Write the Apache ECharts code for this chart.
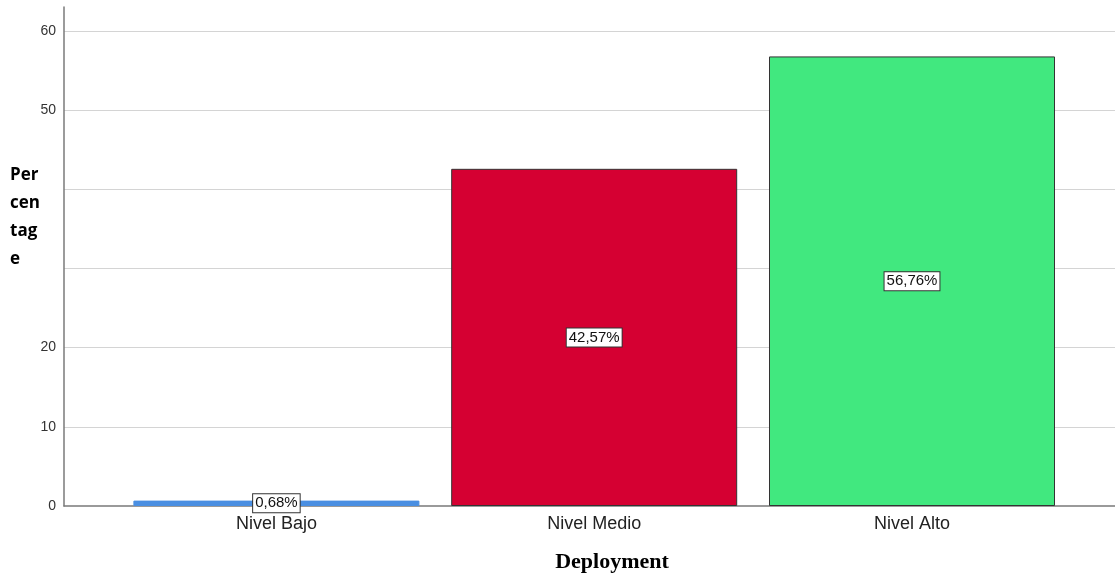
<!DOCTYPE html>
<html>
<head>
<meta charset="utf-8">
<title>Deployment</title>
<script src="https://cdn.jsdelivr.net/npm/echarts@6/dist/echarts.min.js"></script>
<style>
  html, body { margin: 0; padding: 0; background: #ffffff; }
  #chart { width: 1115px; height: 575px; }
</style>
</head>
<body>
<div id="chart"></div>
<script>
// Level categories and the share of responses in each (percent)
const categories = ['Nivel Bajo', 'Nivel Medio', 'Nivel Alto'];
const percentages = [0.68, 42.57, 56.76];
const barColors = ['#4a8fe2', '#d50032', '#41e87f'];
const barBorders = ['#4a8fe2', '#333333', '#333333'];
const yTicksShown = [0, 10, 20, 50, 60];

const Y_MAX = 63;
const TOP = 7;
const BOTTOM = 69;

const chart = echarts.init(document.getElementById('chart'), null, { renderer: 'canvas' });

const fmtPct = v => v.toFixed(2).replace('.', ',') + '%';

const option = {
  animation: false,
  backgroundColor: '#ffffff',
  textStyle: { fontFamily: 'Liberation Sans, Arial, sans-serif' },
  title: [
    {
      text: 'Deployment',
      left: 607, top: 546, textAlign: 'center',
      textStyle: { fontFamily: 'Liberation Serif, Times New Roman, serif', fontWeight: 'bold', fontSize: 22, color: '#000000' }
    },
    {
      text: 'Per\ncen\ntag\ne',
      left: 10, top: 161, padding: 0,
      textStyle: { fontFamily: 'Open Sans, Noto Sans, sans-serif', fontWeight: 'bold', fontSize: 17, lineHeight: 28, color: '#000000' }
    }
  ],
  grid: [
    { left: 64, right: 0, top: TOP, bottom: BOTTOM, containLabel: false },
    { left: 117.5, width: 953.4, top: TOP, bottom: BOTTOM, containLabel: false }
  ],
  xAxis: [
    {
      gridIndex: 0, type: 'value', min: 0, max: 1,
      axisLine: { show: true, onZero: false, lineStyle: { color: '#7a7a7a', width: 1.5 } },
      axisTick: { show: false }, axisLabel: { show: false }, splitLine: { show: false }
    },
    {
      gridIndex: 1, type: 'category', data: categories, boundaryGap: true,
      axisLine: { show: false }, axisTick: { show: false },
      axisLabel: { color: '#222222', fontSize: 18, margin: 9, fontFamily: 'Liberation Sans, Arial, sans-serif' }
    }
  ],
  yAxis: [
    {
      gridIndex: 0, type: 'value', min: 0, max: Y_MAX, interval: 10,
      axisLine: { show: true, lineStyle: { color: '#7a7a7a', width: 1.5 } },
      axisTick: { show: false },
      axisLabel: {
        color: '#333333', fontSize: 14, margin: 8, showMaxLabel: false,
        formatter: v => (yTicksShown.indexOf(v) >= 0 ? String(v) : '')
      },
      splitLine: { show: true, showMinLine: false, showMaxLine: false, lineStyle: { color: '#d4d4d4', width: 1.2 } }
    },
    {
      gridIndex: 1, type: 'value', min: 0, max: Y_MAX, show: false
    }
  ],
  series: [
    {
      type: 'bar',
      xAxisIndex: 1, yAxisIndex: 1,
      barWidth: 286,
      data: percentages.map((v, i) => ({
        value: v,
        itemStyle: { color: barColors[i], borderColor: barBorders[i], borderWidth: 1 }
      })),
      label: {
        show: true, position: 'inside',
        formatter: p => fmtPct(p.value),
        color: '#111111', fontSize: 15,
        backgroundColor: '#ffffff', borderColor: '#333333', borderWidth: 1,
        padding: [2, 2, 1, 2]
      }
    }
  ]
};

chart.setOption(option);
</script>
</body>
</html>
